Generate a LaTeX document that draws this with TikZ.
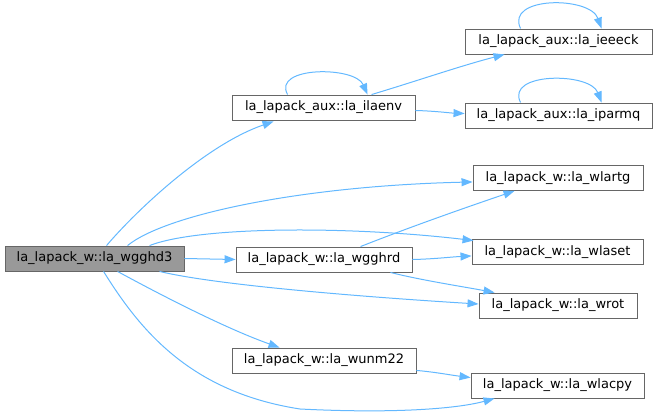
\documentclass[tikz,border=0pt]{standalone}
\usepackage{fontspec}
\setmainfont{DejaVu Sans}
\usetikzlibrary{arrows.meta,calc}
\definecolor{edgeblue}{HTML}{63B8FF}
\definecolor{boxline}{HTML}{666666}
\definecolor{curfill}{HTML}{999999}
\begin{document}
\begin{tikzpicture}[x=1pt,y=-1pt,
  fn/.style={draw=boxline,line width=0.9pt,fill=white,minimum height=25pt,inner sep=0pt,
    font=\fontsize{13}{16}\selectfont},
  cur/.style={fn,fill=curfill},
  call/.style={draw=edgeblue,line width=1pt,-{Triangle[length=11pt,width=8pt]},fill=none}]
\useasboundingbox (0,0) rectangle (657,415);
\node[cur,minimum width=179pt] (wgghd3) at (94.5,258.5) {la\_lapack\_w::la\_wgghd3};
\node[fn,minimum width=183pt] (ilaenv) at (323.5,107.5) {la\_lapack\_aux::la\_ilaenv};
\node[fn,minimum width=187pt] (ieeeck) at (558.5,41.5) {la\_lapack\_aux::la\_ieeeck};
\node[fn,minimum width=187pt] (iparmq) at (558.5,115.5) {la\_lapack\_aux::la\_iparmq};
\node[fn,minimum width=170pt] (wlartg) at (558,178) {la\_lapack\_w::la\_wlartg};
\node[fn,minimum width=171pt] (wlaset) at (557.5,252) {la\_lapack\_w::la\_wlaset};
\node[fn,minimum width=158pt] (wrot) at (558,305.5) {la\_lapack\_w::la\_wrot};
\node[fn,minimum width=173pt] (wlacpy) at (557.5,385.5) {la\_lapack\_w::la\_wlacpy};
\node[fn,minimum width=176pt] (wgghrd) at (324,259.5) {la\_lapack\_w::la\_wgghrd};
\node[fn,minimum width=184pt] (wunm22) at (324,360.5) {la\_lapack\_w::la\_wunm22};

% wgghd3 -> ilaenv
\draw[call] ($(wgghd3.north west)+(102,0)$) .. controls (135,212) and (205,145) .. ($(ilaenv.south west)+(42,1)$);
% ilaenv self loop
\draw[call] ($(ilaenv.north west)+(56,0)$) .. controls (272,66) and (355,66) .. ($(ilaenv.north west)+(136,0)$);
% ilaenv -> ieeeck
\draw[call] ($(ilaenv.north west)+(140,0)$) .. controls (420,80) and (460,66) .. ($(ieeeck.south west)+(40,0)$);
% ilaenv -> iparmq
\draw[call] ($(ilaenv.east)+(0,3)$) .. controls (435,111) and (450,113) .. ($(iparmq.west)+(0,-2)$);
% ieeeck self loop
\draw[call] ($(ieeeck.north west)+(56,0)$) .. controls (505,-4) and (590,-4) .. ($(ieeeck.north west)+(137,0)$);
% iparmq self loop
\draw[call] ($(iparmq.north west)+(56,0)$) .. controls (505,72) and (590,72) .. ($(iparmq.north west)+(137,0)$);
% wgghd3 -> wlartg
\draw[call] ($(wgghd3.north west)+(123,0)$) .. controls (165,215) and (300,186) .. ($(wlartg.south west)+(0,-9)$);
% wgghrd -> wlartg
\draw[call] ($(wgghrd.north west)+(125,0)$) .. controls (410,227) and (470,206) .. ($(wlartg.south west)+(42,0)$);
% wgghd3 -> wlaset
\draw[call] ($(wgghd3.north west)+(145,0)$) .. controls (200,226) and (350,226) .. ($(wlaset.north west)+(2,1.5)$);
% wgghd3 -> wgghrd
\draw[call] (wgghd3.east) -- (wgghrd.west);
% wgghrd -> wlaset
\draw[call] (wgghrd.east) .. controls (435,259) and (450,257) .. ($(wlaset.south west)+(0,-9)$);
% wgghrd -> wrot
\draw[call] ($(wgghrd.south east)+(-22,0)$) .. controls (420,280) and (465,287) .. ($(wrot.north west)+(16,0)$);
% wgghd3 -> wrot
\draw[call] ($(wgghd3.south west)+(155,0)$) .. controls (220,286) and (380,298) .. ($(wrot.west)+(0,-1.5)$);
% wgghd3 -> wunm22
\draw[call] ($(wgghd3.south west)+(113,0)$) .. controls (170,300) and (230,330) .. ($(wunm22.north west)+(48,0)$);
% wunm22 -> wlacpy
\draw[call] ($(wunm22.south east)+(0,-3)$) .. controls (435,372) and (450,375) .. ($(wlacpy.north west)+(0,5)$);
% wgghd3 -> wlacpy
\draw[call] ($(wgghd3.south west)+(99,0)$) .. controls (140,330) and (190,392) .. (300,409) .. controls (400,414) and (460,408) .. ($(wlacpy.south west)+(24,0)$);
\end{tikzpicture}
\end{document}
